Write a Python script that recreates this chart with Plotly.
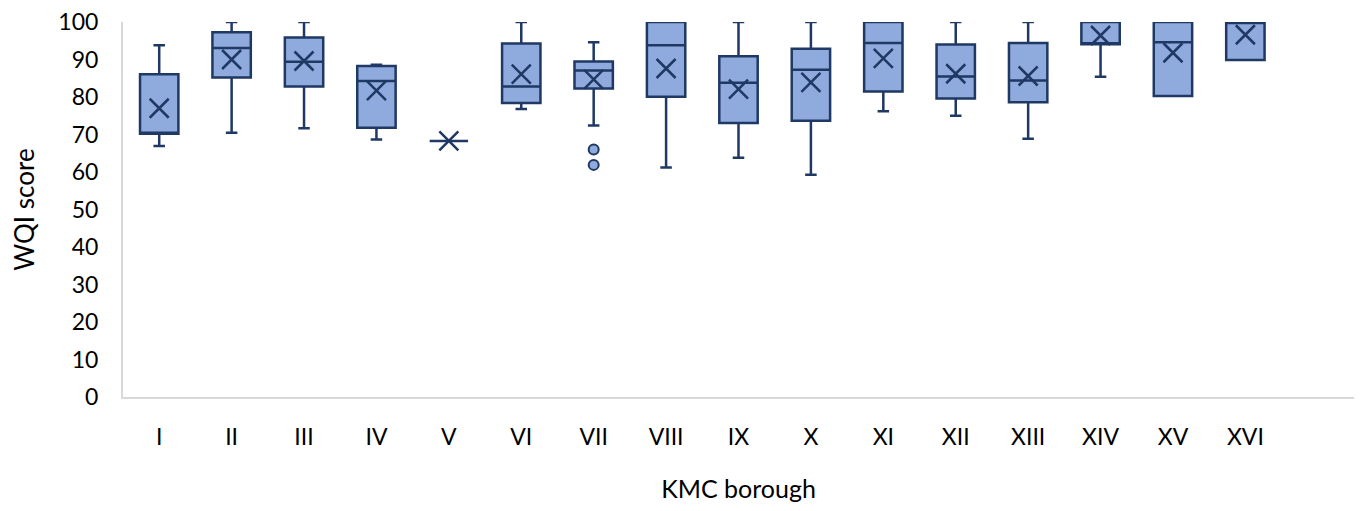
import plotly.graph_objects as go

boroughs = ["I", "II", "III", "IV", "V", "VI", "VII", "VIII", "IX", "X",
            "XI", "XII", "XIII", "XIV", "XV", "XVI"]
lower_whisker = [66.9, 70.5, 71.7, 68.7, 68.3, 76.8, 72.4, 61.2, 63.8, 59.3,
                 76.2, 75.0, 68.9, 85.4, 80.3, 89.9]
q1_values = [70.2, 85.2, 82.8, 71.8, 68.3, 78.4, 82.3, 80.1, 73.1, 73.7,
             81.5, 79.6, 78.6, 94.1, 80.3, 89.9]
median_values = [70.5, 93.1, 89.4, 84.3, 68.3, 82.8, 87.1, 93.8, 83.8, 87.3,
                 94.4, 85.5, 84.4, 94.1, 94.6, 100.0]
q3_values = [86.1, 97.3, 95.9, 88.3, 68.3, 94.3, 89.5, 100.0, 90.9, 92.9,
             100.0, 94.0, 94.4, 100.0, 100.0, 100.0]
upper_whisker = [93.8, 100.0, 100.0, 88.6, 68.3, 100.0, 94.6, 100.0, 100.0, 100.0,
                 100.0, 100.0, 100.0, 100.0, 100.0, 100.0]
mean_values = [77.0, 90.0, 89.6, 81.7, 68.3, 86.1, 84.7, 87.6, 82.1, 83.9,
               90.3, 86.2, 85.6, 96.4, 91.8, 96.6]
outlier_borough = ["VII", "VII"]
outlier_values = [66.0, 61.9]

navy = "#1F3864"
fill = "#8FAADC"
axis_grey = "#D9D9D9"
font_family = "Lato, 'Open Sans', sans-serif"

fig = go.Figure()
fig.add_trace(go.Box(
    x=boroughs,
    q1=q1_values,
    median=median_values,
    q3=q3_values,
    lowerfence=lower_whisker,
    upperfence=upper_whisker,
    fillcolor=fill,
    line=dict(color=navy, width=2.5),
    whiskerwidth=0.3,
    width=0.53,
    boxpoints=False,
    showlegend=False,
    hoverinfo="skip",
))
fig.add_trace(go.Scatter(
    x=boroughs,
    y=mean_values,
    mode="markers",
    marker=dict(symbol="x-thin", size=19, color=navy,
                line=dict(color=navy, width=2.5)),
    showlegend=False,
))
fig.add_trace(go.Scatter(
    x=outlier_borough,
    y=outlier_values,
    mode="markers",
    marker=dict(symbol="circle", size=10, color=fill,
                line=dict(color=navy, width=2)),
    showlegend=False,
))

fig.update_layout(
    width=1351, height=495,
    margin=dict(l=115, r=5, t=14, b=106),
    plot_bgcolor="white", paper_bgcolor="white",
    font=dict(family=font_family, size=23, color="#000000"),
    xaxis=dict(
        type="category",
        categoryorder="array", categoryarray=boroughs,
        range=[-0.5, 16.5],
        automargin=False,
        showline=True, linecolor=axis_grey, linewidth=2,
        showgrid=False, zeroline=False,
        ticks="", ticklabelstandoff=18,
        tickfont=dict(size=23, family=font_family),
        title=dict(text="KMC borough", font=dict(size=25, family=font_family), standoff=35),
    ),
    yaxis=dict(
        range=[0, 100],
        tickmode="linear", tick0=0, dtick=10,
        automargin=False,
        ticklabeloverflow="allow",
        showline=True, linecolor=axis_grey, linewidth=2,
        showgrid=False, zeroline=False,
        ticks="", ticklabelstandoff=18,
        tickfont=dict(size=23, family=font_family),
        title=dict(text="WQI score", font=dict(size=26, family=font_family), standoff=20),
    ),
)

fig.write_html("out.html")
